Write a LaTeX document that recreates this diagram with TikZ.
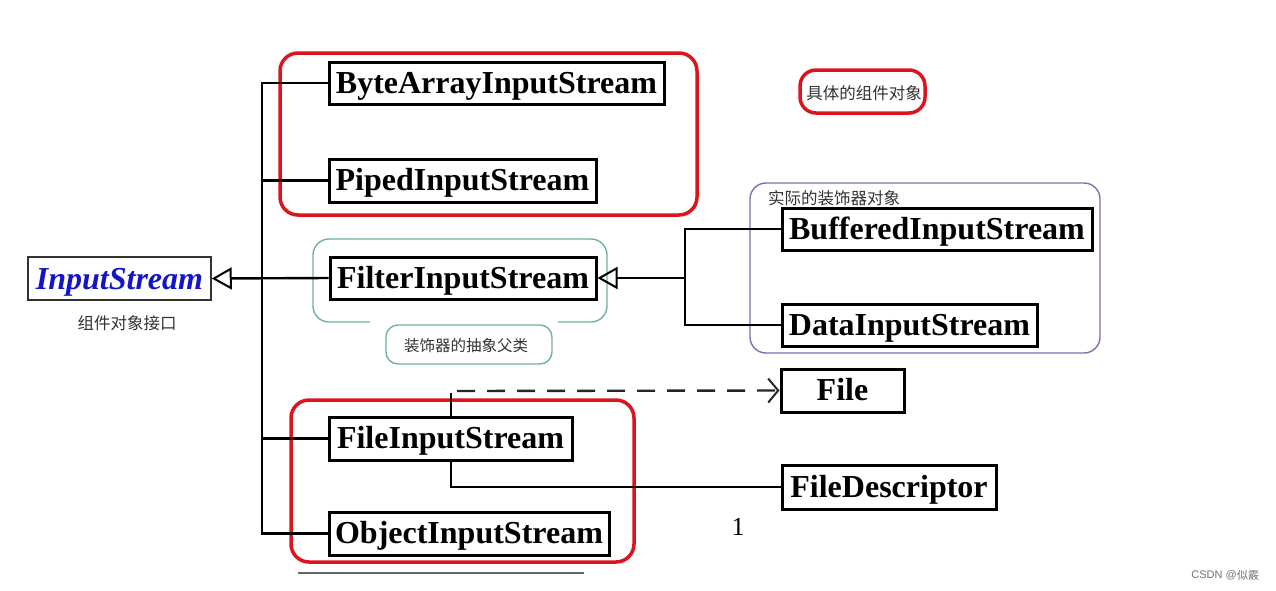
\documentclass[tikz,border=0pt]{standalone}
\usepackage{fontspec}
\setmainfont{Liberation Serif}
\newfontfamily\cjk{Noto Sans CJK SC}
\newfontfamily\sans{Liberation Sans}
\usetikzlibrary{arrows.meta}
\definecolor{redbox}{RGB}{220,20,30}
\definecolor{greenbox}{RGB}{110,180,150}
\definecolor{purplebox}{RGB}{120,115,175}
\definecolor{isblue}{RGB}{20,20,200}
\tikzset{
  cls/.style={draw=black, line width=3pt, fill=white, inner sep=0pt, text height=20pt, text depth=0pt, font=\fontsize{32}{33}\selectfont\bfseries, anchor=center},
  grp/.style={draw=redbox, line width=3.5pt, rounded corners=18pt},
  wire/.style={draw=black, line width=2.4pt},
  inh/.style={-{Triangle[open, length=20pt, width=22pt, line width=2pt]}},
  cjklab/.style={font=\cjk\fontsize{16.5}{17}\selectfont, text=black!80, inner sep=0pt},
}
\begin{document}
\begin{tikzpicture}[x=1pt,y=-1pt]
\useasboundingbox[fill=white] (0,0) rectangle (1276,590);

% red groups
\draw[grp] (280,53) rectangle (697,215);
\draw[grp] (291,400) rectangle (634,562);
\draw[grp, rounded corners=16pt] (800,70) rectangle (925,113);
\node[cjklab] (lab3) at (864,93) {具体的组件对象};

% purple group
\draw[draw=purplebox, line width=1.4pt, rounded corners=16pt] (750,183) rectangle (1100,353);
\node[cjklab, anchor=west] (lab4) at (768,198) {实际的装饰器对象};

% green group with gap
\draw[draw=greenbox, line width=1.4pt, rounded corners=16pt] (370,322) -- (313,322) -- (313,239) -- (607,239) -- (607,322) -- (558,322);
\draw[draw=greenbox, line width=1.4pt, rounded corners=12pt] (386,325) rectangle (552,364);
\node[cjklab, font=\cjk\fontsize{15.5}{16}\selectfont] (lab2) at (466,346) {装饰器的抽象父类};

% nodes
\node[draw=black!80, line width=1.5pt, minimum width=183pt, minimum height=43pt, inner sep=0pt, text height=21pt, text depth=0pt, font=\fontsize{32}{33}\selectfont\bfseries\itshape, text=isblue] (is) at (119.5,278.5) {InputStream};
\node[cjklab] (lab1) at (127,323) {组件对象接口};

\node[cls, minimum width=335pt, minimum height=42pt] (bais) at (496.5,83) {ByteArrayInputStream};
\node[cls, minimum width=267pt, minimum height=43pt] (pis) at (462.5,180.5) {PipedInputStream};
\node[cls, minimum width=266pt, minimum height=42pt] (fis) at (463,278) {FilterInputStream};
\node[cls, minimum width=310pt, minimum height=42pt] (bis) at (937,229) {BufferedInputStream};
\node[cls, minimum width=255pt, minimum height=42pt] (dis) at (909.5,325) {DataInputStream};
\node[cls, minimum width=123pt, minimum height=43pt] (file) at (842.5,390.5) {File};
\node[cls, minimum width=243pt, minimum height=43pt] (fileis) at (450.5,438.5) {FileInputStream};
\node[cls, minimum width=214pt, minimum height=44pt] (fd) at (889,487) {FileDescriptor};
\node[cls, minimum width=280pt, minimum height=43pt] (ois) at (469,533.5) {ObjectInputStream};

% inheritance to InputStream
\coordinate (bus) at (262,279);
\draw[wire] (bais.west) -| (262,279);
\draw[wire] (pis.west) -- (pis.west -| bus);
\draw[wire] (fileis.west) -- (fileis.west -| bus);
\draw[wire] (ois.west) -| (bus);
\draw[wire, inh] (fis.west) -- (is.east);

% decorators to FilterInputStream
\coordinate (dbus) at (685,278);
\draw[wire] (bis.west) -| (dbus);
\draw[wire] (dis.west) -| (dbus);
\draw[wire, inh] (dbus) -- (fis.east);

% FileInputStream to File (dashed dependency)
\coordinate (fdep) at (451,393);
\draw[black, line width=1.8pt] (fileis.north -| fdep) -- (fdep);
\draw[black!85, line width=2.4pt, dash pattern=on 18pt off 12pt, -{Straight Barb[length=10pt, width=24pt, line width=2pt]}] (457,391) -- (file.west);

% FileInputStream to FileDescriptor
\draw[black, line width=1.8pt] (fileis.south -| fdep) |- (fd.west);
\node[font=\fontsize{26}{27}\selectfont] (one) at (738,527) {1};

% underline
\draw[black!60, line width=1.2pt] (298,573) -- (584,573);

% watermark
\node[font=\sans\fontsize{11}{12}\selectfont, text=black!55, inner sep=0pt] (wm) at (1214,575) {CSDN @};
\node[font=\cjk\fontsize{11}{12}\selectfont, text=black!55, inner sep=0pt, anchor=west] (wm2) at (wm.east) {似霰};
\end{tikzpicture}
\end{document}
